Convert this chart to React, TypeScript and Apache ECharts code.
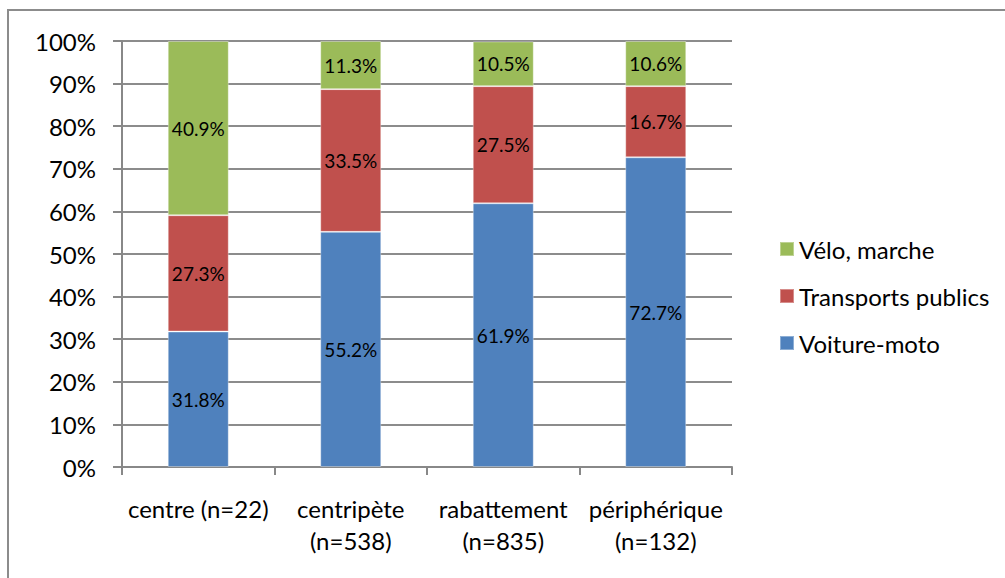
import React, { useEffect, useRef } from "react";
import * as echarts from "echarts";

const categories = ["centre (n=22)", "centripète\n(n=538)", "rabattement\n(n=835)", "périphérique\n(n=132)"];
const voiture = [31.8, 55.2, 61.9, 72.7];
const transports = [27.3, 33.5, 27.5, 16.7];
const velo = [40.9, 11.3, 10.5, 10.6];
const yTicks = { min: 0, max: 100, interval: 10 };

const FONT = "Lato, 'Liberation Sans', sans-serif";

export default function App() {
  const ref = useRef<HTMLDivElement>(null);
  useEffect(() => {
    if (!ref.current) return;
    const chart = echarts.init(ref.current, null, { renderer: "svg" });
    const label = {
      show: true,
      position: "inside",
      color: "#000",
      fontSize: 19,
      fontFamily: FONT,
      formatter: (p: any) => p.value.toFixed(1) + "%",
    };
    const bar = (name: string, data: number[], color: string) => ({
      name,
      type: "bar",
      stack: "total",
      data,
      barWidth: "40%",
      itemStyle: { color, borderColor: "rgba(255,255,255,0.35)", borderWidth: 1 },
      label,
    });
    chart.setOption({
      animation: false,
      textStyle: { fontFamily: FONT },
      graphic: [
        {
          type: "rect",
          shape: { x: 8, y: 10, width: 1010, height: 600 },
          style: { fill: "none", stroke: "#8c8c8c", lineWidth: 2 },
          silent: true,
        },
      ],
      grid: { left: 122, right: 273, top: 41, bottom: 111 },
      legend: {
        orient: "vertical",
        left: 774,
        top: 232,
        itemWidth: 14,
        itemHeight: 14,
        itemGap: 23,
        icon: "rect",
        textStyle: { fontSize: 24, color: "#000", fontFamily: FONT, lineHeight: 24 },
        data: ["Vélo, marche", "Transports publics", "Voiture-moto"],
      },
      xAxis: {
        type: "category",
        data: categories,
        axisLine: { lineStyle: { color: "#888", width: 2 } },
        axisTick: { show: true, length: 8, lineStyle: { color: "#888", width: 2 } },
        axisLabel: { color: "#000", fontSize: 24, lineHeight: 32, margin: 25, interval: 0, fontFamily: FONT },
      },
      yAxis: {
        type: "value",
        min: yTicks.min,
        max: yTicks.max,
        interval: yTicks.interval,
        axisLine: { show: true, lineStyle: { color: "#888", width: 2 } },
        axisTick: { show: true, length: 9, lineStyle: { color: "#888", width: 2 } },
        axisLabel: { color: "#000", fontSize: 24, margin: 26, formatter: "{value}%", fontFamily: FONT },
        splitLine: { lineStyle: { color: "#8c8c8c", width: 2 } },
      },
      series: [
        bar("Voiture-moto", voiture, "#4F81BD"),
        bar("Transports publics", transports, "#C0504D"),
        bar("Vélo, marche", velo, "#9BBB59"),
      ],
    });
    return () => chart.dispose();
  }, []);
  return <div ref={ref} style={{ width: 1005, height: 578, position: "absolute", left: 0, top: 0 }} />;
}
